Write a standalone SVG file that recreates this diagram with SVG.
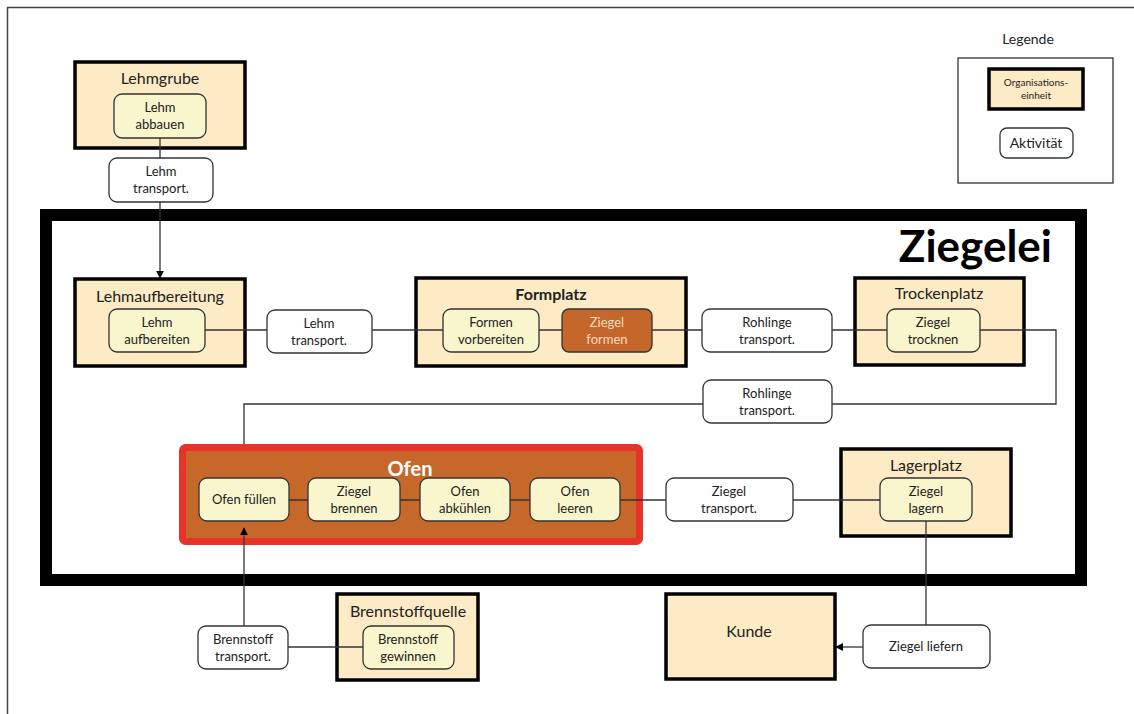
<svg xmlns="http://www.w3.org/2000/svg" width="1134" height="714" viewBox="0 0 1134 714">
<defs>
<style>
text{font-family:Lato,"Open Sans","Liberation Sans",sans-serif;fill:#222;text-anchor:middle}
.org{fill:#FCEBC4;stroke:#000;stroke-width:3.5}
.act{fill:#F9F5CC;stroke:#333;stroke-width:1.3}
.tr{fill:#fff;stroke:#333;stroke-width:1.3}
.t{font-size:16px}
.a{font-size:13px}
.c{fill:none;stroke:#333;stroke-width:1.3}
</style>
<marker id="ah" viewBox="0 0 10 10" refX="9" refY="5" markerWidth="8" markerHeight="8" markerUnits="userSpaceOnUse" orient="auto">
<path d="M0,0 L10,5 L0,10 z" fill="#000"/>
</marker>
</defs>
<rect width="1134" height="714" fill="#fff"/>
<path d="M7.5,714 L7.5,7.5 L1134,7.5" fill="none" stroke="#444" stroke-width="1.5"/>

<g id="ziegelei">
<rect x="46" y="215" width="1035" height="365" fill="none" stroke="#000" stroke-width="12"/>
<text x="1052" y="262" style="font-size:44px;font-weight:bold;text-anchor:end;fill:#000">Ziegelei</text>
</g>

<g id="lehmgrube">
<rect class="org" x="75" y="62" width="170" height="86"/>
<text class="t" x="160" y="84">Lehmgrube</text>
<rect class="act" x="114" y="94" width="92" height="44" rx="8"/>
<text class="a" x="160" y="112">Lehm</text>
<text class="a" x="160" y="129">abbauen</text>
</g>
<g id="lehm-transport-1">
<rect class="tr" x="109" y="158" width="104" height="44" rx="8"/>
<text class="a" x="161" y="176">Lehm</text>
<text class="a" x="161" y="193">transport.</text>
</g>

<g id="lehmaufbereitung">
<rect class="org" x="75" y="279" width="170" height="87"/>
<text class="t" x="160" y="302">Lehmaufbereitung</text>
<rect class="act" x="109" y="309" width="96" height="43" rx="8"/>
<text class="a" x="157" y="327">Lehm</text>
<text class="a" x="157" y="344">aufbereiten</text>
</g>
<g id="lehm-transport-2">
<rect class="tr" x="267" y="310" width="105" height="43" rx="8"/>
<text class="a" x="319" y="328">Lehm</text>
<text class="a" x="319" y="345">transport.</text>
</g>

<g id="formplatz">
<rect class="org" x="416" y="278" width="270" height="88"/>
<text class="t" x="551" y="300" style="font-weight:bold">Formplatz</text>
<rect class="act" x="443" y="309" width="96" height="43" rx="8"/>
<text class="a" x="491" y="327">Formen</text>
<text class="a" x="491" y="344">vorbereiten</text>
<rect x="562" y="309" width="90" height="43" rx="7" fill="#C5662A" stroke="#333" stroke-width="1.3"/>
<text class="a" x="607" y="327" style="fill:#F6DCC0">Ziegel</text>
<text class="a" x="607" y="344" style="fill:#F6DCC0">formen</text>
</g>
<g id="rohlinge-transport-1">
<rect class="tr" x="702" y="309" width="130" height="43" rx="8"/>
<text class="a" x="767" y="327">Rohlinge</text>
<text class="a" x="767" y="344">transport.</text>
</g>

<g id="trockenplatz">
<rect class="org" x="855" y="278" width="169" height="87"/>
<text class="t" x="939" y="299">Trockenplatz</text>
<rect class="act" x="887" y="309" width="93" height="43" rx="8"/>
<text class="a" x="933" y="327">Ziegel</text>
<text class="a" x="933" y="344">trocknen</text>
</g>
<g id="rohlinge-transport-2">
<rect class="tr" x="703" y="380" width="129" height="43" rx="8"/>
<text class="a" x="767" y="398">Rohlinge</text>
<text class="a" x="767" y="415">transport.</text>
</g>

<g id="ofen">
<rect x="182.5" y="447.5" width="457" height="94" rx="3" fill="#C5682A" stroke="#E8322A" stroke-width="7"/>
<text x="410" y="476" style="font-size:20px;font-weight:bold;fill:#fff">Ofen</text>
<rect class="act" x="199" y="478" width="90" height="43" rx="8"/>
<text class="a" x="244" y="504">Ofen füllen</text>
<rect class="act" x="308" y="478" width="92" height="43" rx="8"/>
<text class="a" x="354" y="496">Ziegel</text>
<text class="a" x="354" y="513">brennen</text>
<rect class="act" x="420" y="478" width="90" height="43" rx="8"/>
<text class="a" x="465" y="496">Ofen</text>
<text class="a" x="465" y="513">abkühlen</text>
<rect class="act" x="530" y="478" width="90" height="43" rx="8"/>
<text class="a" x="575" y="496">Ofen</text>
<text class="a" x="575" y="513">leeren</text>
</g>

<g id="ziegel-transport">
<rect class="tr" x="666" y="478" width="127" height="43" rx="8"/>
<text class="a" x="729" y="496">Ziegel</text>
<text class="a" x="729" y="513">transport.</text>
</g>

<g id="lagerplatz">
<rect class="org" x="841" y="449" width="170" height="87"/>
<text class="t" x="926" y="471">Lagerplatz</text>
<rect class="act" x="880" y="478" width="92" height="43" rx="8"/>
<text class="a" x="926" y="496">Ziegel</text>
<text class="a" x="926" y="513">lagern</text>
</g>

<g id="brennstoff-transport">
<rect class="tr" x="198" y="626" width="90" height="43" rx="8"/>
<text class="a" x="243" y="644">Brennstoff</text>
<text class="a" x="243" y="661">transport.</text>
</g>

<g id="brennstoffquelle">
<rect class="org" x="337" y="594" width="141" height="86"/>
<text class="t" x="408" y="617">Brennstoffquelle</text>
<rect class="act" x="363" y="626" width="91" height="43" rx="8"/>
<text class="a" x="408" y="644">Brennstoff</text>
<text class="a" x="408" y="661">gewinnen</text>
</g>

<g id="kunde">
<rect class="org" x="666" y="594" width="169" height="85"/>
<text class="t" x="749" y="637">Kunde</text>
</g>

<g id="ziegel-liefern">
<rect class="tr" x="863" y="625" width="127" height="43" rx="8"/>
<text class="a" x="926" y="651">Ziegel liefern</text>
</g>

<g id="legende">
<text x="1028" y="44" style="font-size:14px">Legende</text>
<rect x="958" y="58" width="155" height="125" fill="#fff" stroke="#333" stroke-width="1.3"/>
<rect class="org" x="989" y="69" width="94" height="40"/>
<text x="1036" y="86" style="font-size:10px">Organisations-</text>
<text x="1036" y="99" style="font-size:10px">einheit</text>
<rect class="tr" x="1000" y="128" width="73" height="30" rx="7"/>
<text x="1036" y="148" style="font-size:14px">Aktivität</text>
</g>

<g id="connectors">
<path class="c" d="M160,138 V158"/>
<path class="c" d="M160,202 V278" marker-end="url(#ah)"/>
<path class="c" d="M205,330 H267 M372,330 H443 M539,330 H562 M652,330 H702 M832,330 H887"/>
<path class="c" d="M980,330 H1056 V404 H832"/>
<path class="c" d="M703,404 H244 V444"/>
<path class="c" d="M289,500 H308 M400,500 H420 M510,500 H530 M620,500 H666 M793,500 H880"/>
<path class="c" d="M926,521 V625"/>
<path class="c" d="M863,647 H836" marker-end="url(#ah)"/>
<path class="c" d="M288,647 H363"/>
<path class="c" d="M244,626 V528" marker-end="url(#ah)"/>
</g>
</svg>
